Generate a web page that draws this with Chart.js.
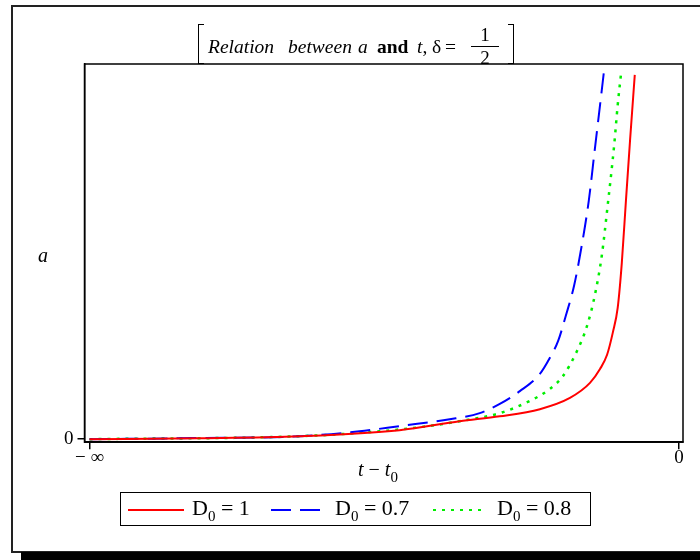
<!DOCTYPE html>
<html>
<head>
<meta charset="utf-8">
<script src="https://cdn.jsdelivr.net/npm/chart.js@4/dist/chart.umd.min.js"></script>
<style>
  body { margin: 0; background: #fff; }
  #wrap { position: relative; width: 700px; height: 560px; overflow: hidden; background: #fff;
    font-family: "Liberation Serif", "Times New Roman", serif; color: #000; }
  #frame { position: absolute; left: 11px; top: 5px; width: 720px; height: 544px; border: 2px solid #222; }
  #shadow { position: absolute; left: 21px; top: 552px; width: 700px; height: 10px; background: #000; }
  #c { position: absolute; left: 0; top: 0; }
  .bracket { position: absolute; top: 24px; width: 5px; height: 38px; border-top: 1.5px solid #000; border-bottom: 1.5px solid #000; }
  #bl { left: 198px; border-left: 1.5px solid #000; }
  #br { left: 508px; border-right: 1.5px solid #000; }
  #title { position: absolute; left: 207px; top: 37px; font-size: 19.5px; white-space: nowrap; line-height: 20px; }
  #title .w { position: absolute; top: 0; }
  .i { font-style: italic; }
  #frac { position: absolute; left: 264px; top: -13px; width: 28px; text-align: center; font-size: 19px; line-height: 22px; }
  #frac .n { border-bottom: 1px solid #000; }
  .lab { position: absolute; white-space: nowrap; font-size: 20px; }
  #legend { position: absolute; left: 120px; top: 492px; width: 469px; height: 32px; border: 1.5px solid #000; font-size: 22px; }
  .sw { position: absolute; top: 16px; width: 56px; height: 2px; }
  .lt { position: absolute; top: 2px; white-space: nowrap; }
  sub { font-size: 15px; vertical-align: -6px; line-height: 0; }
</style>
</head>
<body>
<div id="wrap">
  <div id="frame"></div>
  <div id="shadow"></div>
  <canvas id="c" width="700" height="560"></canvas>
  <div class="bracket" id="bl"></div>
  <div class="bracket" id="br"></div>
  <div id="title">
    <span class="w i" style="left:1px">Relation</span>
    <span class="w i" style="left:81px">between</span>
    <span class="w i" style="left:151px">a</span>
    <span class="w" style="left:170px;font-weight:bold">and</span>
    <span class="w" style="left:210px"><i>t</i>,</span>
    <span class="w" style="left:225px">δ</span>
    <span class="w" style="left:238px">=</span>
    <div id="frac"><div class="n">1</div><div>2</div></div>
  </div>
  <div class="lab i" style="left:38px;top:244px;">a</div>
  <div class="lab" style="left:358px;top:458px;"><span class="i">t</span> − <span class="i">t</span><sub>0</sub></div>
  <div id="legend">
    <div class="sw" style="left:7px;background:#ff0000;"></div>
    <div class="lt" style="left:71px;">D<sub>0</sub> = 1</div>
    <div class="sw" style="left:150px;background:repeating-linear-gradient(90deg,#0000ff 0 20px,transparent 20px 29px);"></div>
    <div class="lt" style="left:214px;">D<sub>0</sub> = 0.7</div>
    <div class="sw" style="left:312px;width:48px;background:repeating-linear-gradient(90deg,#00ee00 0 3px,transparent 3px 9px);"></div>
    <div class="lt" style="left:376px;">D<sub>0</sub> = 0.8</div>
  </div>
</div>
<script>
// t - t0 in arbitrary units, -10 stands for -infinity
const redX = [-10, -8.13, -6.43, -4.74, -3.72, -3.04, -2.36, -1.85, -1.51, -1.34, -1.22, -1.12, -1.04, -0.97, -0.90, -0.83, -0.75];
const redY = [0, 0.27, 0.8, 2.4, 4.8, 6.1, 8.0, 11.0, 15.0, 18.7, 22.5, 28.6, 35.0, 47.0, 63.6, 79.7, 97.1];

const blueX = [-10, -8.13, -6.43, -5.42, -4.74, -3.89, -3.38, -3.04, -2.70, -2.36, -2.19, -2.05, -1.92, -1.78, -1.65, -1.53, -1.43, -1.34, -1.27];
const blueY = [0, 0.3, 0.8, 2.1, 3.5, 5.3, 6.95, 9.4, 12.8, 17.4, 21.7, 26.2, 32.9, 40.9, 51.6, 63.6, 77.0, 89.0, 98.4];

const greenX = [-10, -6.43, -5.08, -4.40, -3.72, -3.04, -2.53, -2.19, -1.97, -1.73, -1.56, -1.43, -1.31, -1.21, -1.10, -1.04, -0.98];
const greenY = [0, 0.8, 2.1, 3.2, 4.8, 6.95, 10.2, 13.4, 16.8, 23.5, 30.2, 38.2, 48.9, 62.3, 78.3, 89.0, 97.9];

const xTickValues = [-10, 0];
const xTickLabels = ["− ∞", "0"];
const yTickValues = [0];
const yTickLabels = ["0"];

function toPoints(xs, ys) {
  return xs.map((x, i) => ({ x: x, y: ys[i] }));
}

Chart.defaults.font.family = "'Liberation Serif', 'Times New Roman', serif";
Chart.defaults.color = "#000";

const boxPlugin = {
  id: "box",
  afterDraw(chart) {
    const a = chart.chartArea;
    const ctx = chart.ctx;
    ctx.save();
    ctx.strokeStyle = "#000";
    ctx.lineWidth = 1.5;
    ctx.strokeRect(a.left, a.top, a.right - a.left, a.bottom - a.top);
    ctx.restore();
  }
};

new Chart(document.getElementById("c"), {
  type: "scatter",
  data: {
    datasets: [
      { label: "D0 = 1", data: toPoints(redX, redY), borderColor: "#ff0000", borderWidth: 2 },
      { label: "D0 = 0.7", data: toPoints(blueX, blueY), borderColor: "#0000ff", borderWidth: 2, borderDash: [20, 9] },
      { label: "D0 = 0.8", data: toPoints(greenX, greenY), borderColor: "#00ee00", borderWidth: 2.5, borderDash: [3, 6] }
    ].map((d) => Object.assign(d, { showLine: true, pointRadius: 0, cubicInterpolationMode: "monotone", fill: false }))
  },
  options: {
    responsive: false,
    animation: false,
    layout: { padding: { left: 60, right: 17, top: 64, bottom: 94 } },
    plugins: { legend: { display: false }, tooltip: { enabled: false } },
    scales: {
      x: {
        type: "linear",
        min: -10.085,
        max: 0.068,
        afterBuildTicks: (scale) => { scale.ticks = xTickValues.map((v) => ({ value: v })); },
        ticks: {
          autoSkip: false,
          maxRotation: 0,
          padding: -3,
          font: { size: 19 },
          callback: (v) => xTickLabels[xTickValues.indexOf(v)]
        },
        grid: { drawOnChartArea: false, drawTicks: true, tickLength: 7, color: "#000", lineWidth: 1.5 },
        border: { display: true, color: "#000", width: 1.5 }
      },
      y: {
        min: -0.8,
        max: 100,
        afterBuildTicks: (scale) => { scale.ticks = yTickValues.map((v) => ({ value: v })); },
        ticks: {
          padding: 4,
          font: { size: 19 },
          callback: (v) => yTickLabels[yTickValues.indexOf(v)]
        },
        grid: { drawOnChartArea: false, drawTicks: true, tickLength: 7, color: "#000", lineWidth: 1.5 },
        border: { display: true, color: "#000", width: 1.5 }
      }
    }
  },
  plugins: [boxPlugin]
});
</script>
</body>
</html>
